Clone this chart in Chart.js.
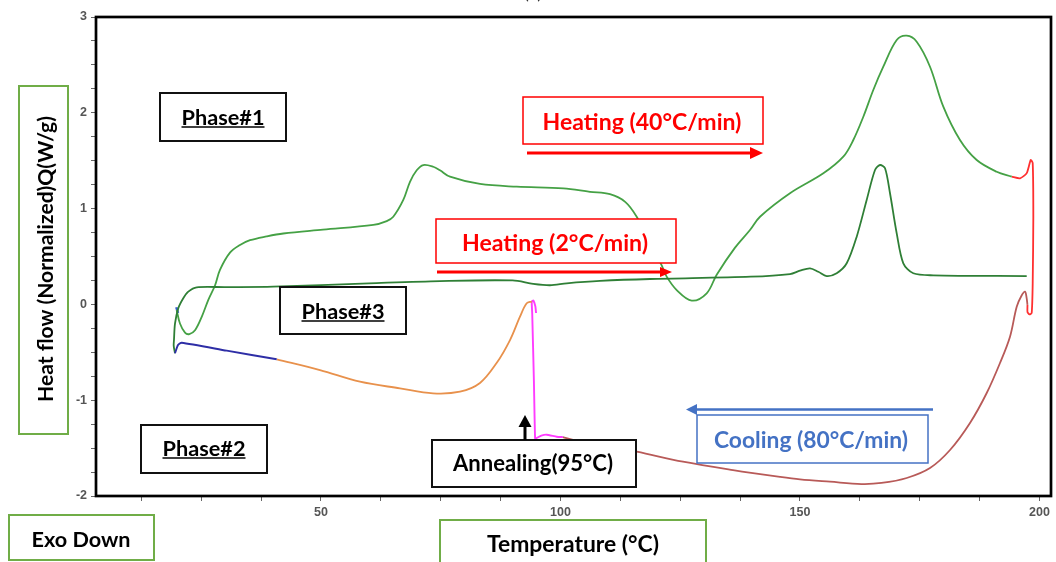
<!DOCTYPE html>
<html>
<head>
<meta charset="utf-8">
<title>DSC heat flow – annealing cycle</title>
<script src="https://cdn.jsdelivr.net/npm/chart.js@4.4.1/dist/chart.umd.min.js"></script>
<style>
  html, body { margin: 0; padding: 0; background: #fff; overflow: hidden; }
  #wrap { width: 1056px; height: 562px; position: relative; }
</style>
</head>
<body>
<div id="wrap"><canvas id="dsc"></canvas></div>
<script>
// ------------------------------------------------------------
// Data (temperature °C, heat flow W/g)
// ------------------------------------------------------------

// heating at 40 °C/min (upper green trace)
const heat40Temp = [19.87, 20.56, 21.61, 22.52, 23.70, 25.10, 26.50, 27.89, 28.91, 31.00, 33.09, 35.18, 38.66, 42.13, 50.42, 60.92, 63.72, 65.09, 67.18, 68.58, 69.98, 71.36, 73.44, 74.84, 76.93, 83.19, 90.86, 100.59, 106.16, 110.33, 113.50, 115.91, 118.50, 121.10, 122.17, 124.26, 127.39, 130.52, 132.61, 136.40, 139.56, 141.65, 147.91, 154.87, 159.04, 161.13, 163.22, 165.30, 167.39, 170.19, 172.28, 174.36, 177.14, 179.92, 183.40, 186.89, 191.06, 194.20];
const heat40Flow = [-0.06, -0.20, -0.295, -0.31, -0.27, -0.13, 0.05, 0.20, 0.36, 0.54, 0.62, 0.67, 0.71, 0.74, 0.78, 0.83, 0.87, 0.915, 1.09, 1.28, 1.40, 1.455, 1.437, 1.40, 1.333, 1.257, 1.229, 1.212, 1.175, 1.15, 1.07, 0.915, 0.66, 0.41, 0.29, 0.15, 0.04, 0.116, 0.31, 0.59, 0.777, 0.915, 1.16, 1.368, 1.542, 1.716, 1.959, 2.238, 2.481, 2.76, 2.805, 2.742, 2.481, 2.064, 1.716, 1.507, 1.385, 1.333];

// hold / turnaround at 200 °C (red)
const turnTemp = [194.20, 195.93, 197.33, 198.16, 198.58, 198.71, 198.58, 198.37, 197.91, 197.49, 197.49];
const turnFlow = [1.333, 1.316, 1.37, 1.507, 1.476, 0.91, 0.22, -0.09, -0.105, -0.08, -0.006];

// cooling at 80 °C/min down to the annealing temperature (brown)
const coolFastTemp = [197.49, 197.30, 196.97, 196.24, 195.24, 193.84, 191.75, 188.98, 185.49, 181.32, 177.14, 172.28, 167.01, 162.84, 156.26, 150.00, 145.82, 136.01, 125.57, 115.91, 108.25, 102.61, 100.52];
const coolFastFlow = [-0.006, 0.07, 0.133, 0.09, -0.024, -0.337, -0.612, -0.925, -1.238, -1.52, -1.708, -1.812, -1.864, -1.875, -1.851, -1.826, -1.80, -1.729, -1.642, -1.538, -1.468, -1.415, -1.385];

// isothermal annealing at 95 °C (magenta)
const annealTemp = [100.52, 99.20, 97.10, 96.00, 95.00, 94.70, 94.45, 94.10, 94.00, 94.35, 94.75, 94.90];
const annealFlow = [-1.385, -1.381, -1.36, -1.37, -1.395, -1.40, -0.80, -0.10, 0.03, 0.04, -0.02, -0.09];

// cooling after annealing (orange, then blue)
const coolSlowTemp = [94.00, 92.94, 91.54, 89.46, 86.66, 83.19, 79.02, 73.38, 66.49, 58.14, 49.79, 40.75];
const coolSlowFlow = [0.03, 0.012, -0.128, -0.372, -0.612, -0.82, -0.911, -0.928, -0.876, -0.807, -0.685, -0.573];
const coolEndTemp = [40.75, 30.31, 20.92, 20.15, 19.52];
const coolEndFlow = [-0.573, -0.483, -0.40, -0.424, -0.51];
const startMarkTemp = [19.80, 20.15];
const startMarkFlow = [-0.03, -0.09];

// heating at 2 °C/min (lower green trace)
const heat2Temp = [19.52, 19.25, 19.31, 19.52, 20.21, 21.25, 22.30, 24.05, 30.00, 40.00, 60.00, 74.84, 90.00, 94.30, 97.80, 101.30, 108.25, 118.68, 139.71, 147.91, 150.00, 152.09, 153.82, 155.57, 157.66, 159.75, 161.84, 163.92, 165.66, 166.70, 167.75, 168.79, 170.19, 171.57, 173.65, 177.83, 197.33];
const heat2Flow = [-0.51, -0.43, -0.37, -0.20, -0.04, 0.064, 0.133, 0.178, 0.18, 0.185, 0.22, 0.244, 0.25, 0.215, 0.20, 0.22, 0.245, 0.265, 0.289, 0.317, 0.352, 0.377, 0.341, 0.296, 0.325, 0.429, 0.707, 1.09, 1.403, 1.455, 1.421, 1.16, 0.742, 0.429, 0.325, 0.304, 0.296];

// axis ticks (minor marks carry an empty label)
const xTickValues = [12.5, 25, 37.5, 50, 62.5, 75, 87.5, 100, 112.5, 125, 137.5, 150, 162.5, 175, 187.5, 200];
const xTickLabels = ['', '', '', '50', '', '', '', '100', '', '', '', '150', '', '', '', '200'];
const yTickValues = [3, 2.75, 2.5, 2.25, 2, 1.75, 1.5, 1.25, 1, 0.75, 0.5, 0.25, 0, -0.25, -0.5, -0.75, -1, -1.25, -1.5, -1.75, -2];
const yTickLabels = ['3', '', '', '', '2', '', '', '', '1', '', '', '', '0', '', '', '', '-1', '', '', '', '-2'];

// ------------------------------------------------------------
// Helpers
// ------------------------------------------------------------

function toPoints(temps, flows) {
  return temps.map((t, i) => ({ x: t, y: flows[i] }));
}

function segment(temps, flows, color, width, tension) {
  return {
    data: toPoints(temps, flows),
    borderColor: color,
    borderWidth: width,
    tension: tension,
    showLine: true,
    pointRadius: 0
  };
}

// ------------------------------------------------------------
// Annotation boxes (page layout, in canvas pixels)
// ------------------------------------------------------------

const FAMILY = 'Lato, "Open Sans", sans-serif';
const GREEN_BOX = '#70ad47';

const notes = [
  { text: 'Phase#1', box: [160, 93, 126, 48], cx: 223, cy: 117, w: 83, color: '#000', border: '#111', lw: 2, underline: true },
  { text: 'Phase#2', box: [141, 425, 126, 48], cx: 204, cy: 448, w: 83, color: '#000', border: '#111', lw: 2, underline: true },
  { text: 'Phase#3', box: [280, 287, 126, 47], cx: 343, cy: 311, w: 83, color: '#000', border: '#111', lw: 2, underline: true },
  { text: 'Heating (40°C/min)', box: [523, 97, 240, 47], cx: 642, cy: 122, w: 199, color: '#ff0000', border: '#ff0000', lw: 1.5 },
  { text: 'Heating (2°C/min)', box: [436, 219, 240, 44], cx: 555, cy: 243, w: 186, color: '#ff0000', border: '#ff0000', lw: 1.5 },
  { text: 'Cooling (80°C/min)', box: [697, 415, 231, 48], cx: 811, cy: 440, w: 194, color: '#4472c4', border: '#4472c4', lw: 1.5 },
  { text: 'Annealing(95°C)', box: [432, 440, 204, 47], cx: 533, cy: 463, w: 160, color: '#000', border: '#111', lw: 2 },
  { text: 'Exo Down', box: [9, 515, 145, 45], cx: 81, cy: 539, w: 99, color: '#000', border: GREEN_BOX, lw: 2 },
  { text: 'Temperature (°C)', box: [440, 520, 266, 60], cx: 573, cy: 544, w: 172, color: '#000', border: GREEN_BOX, lw: 2 },
  { text: 'Heat flow (Normalized)Q(W/g)', box: [19, 86, 49, 348], cx: 45, cy: 259, w: 286, color: '#000', border: GREEN_BOX, lw: 2, rotate: true }
];

const arrows = [
  { from: [527, 153], to: [763, 153], color: '#ff0000', width: 3, head: 13, half: 6 },
  { from: [437, 272], to: [672, 272], color: '#ff0000', width: 3, head: 12, half: 5 },
  { from: [933, 409.5], to: [686, 409.5], color: '#4472c4', width: 2.5, head: 11, half: 5.5 },
  { from: [525, 440], to: [525, 415], color: '#000', width: 3, head: 12, half: 6.5 }
];

function fitFont(ctx, text, width) {
  ctx.font = `bold 20px ${FAMILY}`;
  const size = 20 * width / ctx.measureText(text).width;
  ctx.font = `bold ${size.toFixed(2)}px ${FAMILY}`;
  return size;
}

function drawNote(ctx, n) {
  const [bx, by, bw, bh] = n.box;
  ctx.fillStyle = '#fff';
  ctx.fillRect(bx, by, bw, bh);
  ctx.strokeStyle = n.border;
  ctx.lineWidth = n.lw;
  ctx.strokeRect(bx, by, bw, bh);

  ctx.save();
  ctx.translate(n.cx, n.cy);
  if (n.rotate) ctx.rotate(-Math.PI / 2);
  const size = fitFont(ctx, n.text, n.w);
  const base = size * 0.36;
  ctx.fillStyle = n.color;
  ctx.textAlign = 'center';
  ctx.textBaseline = 'alphabetic';
  ctx.fillText(n.text, 0, base);
  if (n.underline) {
    ctx.strokeStyle = n.color;
    ctx.lineWidth = 1.6;
    ctx.beginPath();
    ctx.moveTo(-n.w / 2, base + 2.2);
    ctx.lineTo(n.w / 2, base + 2.2);
    ctx.stroke();
  }
  ctx.restore();
}

function drawArrow(ctx, a) {
  const [x1, y1] = a.from;
  const [x2, y2] = a.to;
  const len = Math.hypot(x2 - x1, y2 - y1);
  const ux = (x2 - x1) / len, uy = (y2 - y1) / len;
  const bx = x2 - ux * a.head, by = y2 - uy * a.head;
  ctx.strokeStyle = a.color;
  ctx.fillStyle = a.color;
  ctx.lineWidth = a.width;
  ctx.beginPath();
  ctx.moveTo(x1, y1);
  ctx.lineTo(bx, by);
  ctx.stroke();
  ctx.beginPath();
  ctx.moveTo(x2, y2);
  ctx.lineTo(bx - uy * a.half, by + ux * a.half);
  ctx.lineTo(bx + uy * a.half, by - ux * a.half);
  ctx.closePath();
  ctx.fill();
}

const annotationPlugin = {
  id: 'dscAnnotations',
  afterDraw(chart) {
    const ctx = chart.ctx;
    const area = chart.chartArea;
    ctx.save();

    // plot frame
    ctx.strokeStyle = '#000';
    ctx.lineWidth = 2.7;
    ctx.strokeRect(area.left, area.top, area.right - area.left, area.bottom - area.top);

    // clipped panel label at the very top
    ctx.fillStyle = '#333';
    ctx.font = `18px ${FAMILY}`;
    ctx.textAlign = 'center';
    ctx.textBaseline = 'alphabetic';
    ctx.fillText('(a)', 533, -1);

    notes.forEach(n => drawNote(ctx, n));
    arrows.forEach(a => drawArrow(ctx, a));
    ctx.restore();
  }
};

// ------------------------------------------------------------
// Chart
// ------------------------------------------------------------

const tickFont = { family: '"Liberation Sans", Arial, sans-serif', size: 12.5, weight: 'bold' };

new Chart(document.getElementById('dsc'), {
  type: 'scatter',
  data: {
    datasets: [
      segment(coolEndTemp, coolEndFlow, '#2e2ea6', 1.9, 0.2),
      segment(coolSlowTemp, coolSlowFlow, '#e8914c', 1.8, 0.35),
      segment(coolFastTemp, coolFastFlow, '#b85a58', 1.8, 0.35),
      segment(annealTemp, annealFlow, '#ff3cff', 1.9, 0.15),
      segment(heat2Temp, heat2Flow, '#2f7f36', 1.8, 0.3),
      segment(heat40Temp, heat40Flow, '#45a145', 1.8, 0.35),
      segment(turnTemp, turnFlow, '#ff3030', 1.8, 0.2),
      segment(startMarkTemp, startMarkFlow, '#3a5fd0', 2.5, 0)
    ]
  },
  options: {
    responsive: true,
    maintainAspectRatio: false,
    animation: false,
    layout: { padding: { top: 17, right: 5, left: 0, bottom: 0 } },
    plugins: {
      legend: { display: false },
      tooltip: { enabled: false }
    },
    scales: {
      x: {
        type: 'linear',
        min: 3.03,
        max: 202.4,
        afterFit: s => { s.height = 66; },
        afterBuildTicks: s => { s.ticks = xTickValues.map(v => ({ value: v })); },
        border: { display: false },
        grid: { drawOnChartArea: false, drawTicks: true, tickLength: 5, color: '#666' },
        ticks: {
          autoSkip: false,
          maxRotation: 0,
          padding: 4,
          color: '#555',
          font: tickFont,
          callback: (v, i) => xTickLabels[i]
        }
      },
      y: {
        min: -2,
        max: 3,
        afterFit: s => { s.width = 96; },
        afterBuildTicks: s => { s.ticks = yTickValues.map(v => ({ value: v })); },
        border: { display: false },
        grid: { drawOnChartArea: false, drawTicks: true, tickLength: 5, color: '#666' },
        ticks: {
          autoSkip: false,
          padding: 4,
          color: '#555',
          font: tickFont,
          callback: (v, i) => yTickLabels[i]
        }
      }
    }
  },
  plugins: [annotationPlugin]
});
</script>
</body>
</html>
